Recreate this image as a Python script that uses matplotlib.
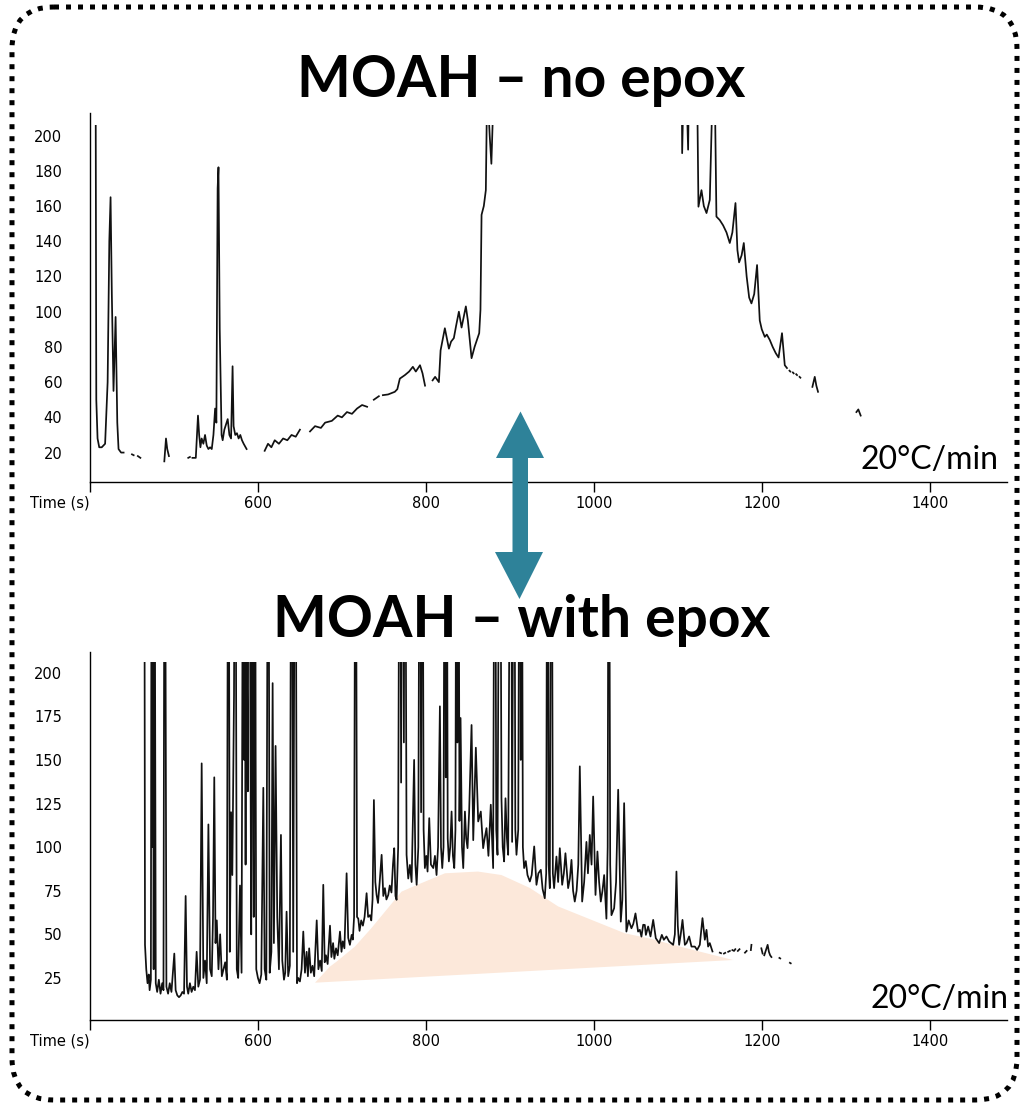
import numpy as np
import matplotlib
matplotlib.use("Agg")
import matplotlib.pyplot as plt
from matplotlib.patches import Rectangle, Polygon, FancyBboxPatch

nan = np.nan

# ---- data ----
xticks = [400, 600, 800, 1000, 1200, 1400]
xticklabels = ["Time (s)", "600", "800", "1000", "1200", "1400"]
top_yticks = [20, 40, 60, 80, 100, 120, 140, 160, 180, 200]
bot_yticks = [25, 50, 75, 100, 125, 150, 175, 200]
titles = ["MOAH \u2013 no epox", "MOAH \u2013 with epox"]
rate_label = "20\u00b0C/min"

# MOAH without epoxidation (gaps = nan)
top_t = [406, 407.5, 409, 411, 414, 418, 421, 423, 424.5, 426, 428, 430.5, 432.5, 434, 437, 440, nan,
         450, 452, nan, 457, 460, nan, 488.5, 490.5, 492, 494, nan, 517, 519, nan,
         522, 526, 528.6, 530, 531.5, 533, 535, 537, 539, 541, 543, 545, 547, 549, 550.5, 552, 553,
         554.5, 556.7, 558, 560, 562, 564, 566, 568, 569.8, 571, 573, 575, 577, 579, 581, 583, 586.5, nan,
         608, 612, 616, 620, 625, 630, 635, 640, 645, 650, nan, 662, 668, 675, 680, 688, 695, 700, 706,
         712, 718, 724, 730, nan, 738, 744, nan, 748.8, 755, 763, 766, 769, 775, 780, 784.5, 788, 793,
         796, 799, nan, 808, 811, 815.5, 817.5, 822.6, 827.4, 830, 833.3, 836, 839.3, 842.5, 845, 847.6,
         850, 854.4, 858, 863.5, 865, 866.3, 869, 871.4, 873, 876, 878, 881, 950, 1050,
         1104, 1105.2, 1108.3, 1112.3, 1115, 1122.3, 1124.6, 1128.2, 1131, 1134.2, 1138.1, 1143.2, 1146,
         1150, 1154, 1158, 1161.9, 1165, 1168.7, 1171, 1173, 1176, 1178.6, 1182, 1185, 1187.7, 1191,
         1194.4, 1197.6, 1200, 1203.6, 1206, 1209.5, 1213, 1216.7, 1220, 1224.1, 1227.4, 1230, nan,
         1233, 1234, nan, 1237, 1238, nan, 1241, 1242, nan, 1245, 1246, nan,
         1260.3, 1263.1, 1265, 1267, nan, 1312.7, 1315, 1317.8]
top_v = [400, 50, 28, 23, 23, 25, 60, 140, 165, 110, 55, 97, 37, 22, 20, 20, nan,
         19, 18.5, nan, 18, 17, nan, 15, 28, 22, 18, nan, 17, 17.5, nan,
         17, 17, 41, 30, 23, 28, 25, 30, 24, 22, 23, 22, 30, 45, 37, 170, 182,
         90, 30, 27, 33, 36, 39, 30, 28, 69, 35, 30, 31, 28, 30, 27, 25, 22, nan,
         21, 25, 23, 27, 25, 28, 27, 30, 29, 33, nan, 32, 35, 34, 37, 38, 41, 40, 43,
         42, 45, 47, 46, nan, 50, 52, nan, 52.6, 53, 54.5, 56, 62, 64, 66, 68.7, 66, 69.6,
         65, 58, nan, 61, 63, 60, 78, 90.6, 79, 83, 85, 92, 100, 91, 97, 103,
         95, 73.6, 80, 87.8, 101, 155, 160, 169, 230, 200, 184, 230, 400, 400,
         300, 190, 260, 192, 300, 260, 159.6, 169, 160, 156, 163.5, 260, 154,
         152, 149, 145, 139, 145, 161.7, 135, 128, 132, 139, 120, 108, 104.7, 110,
         126.5, 95, 90, 85.7, 87, 84, 80, 76.4, 74, 87.8, 69.6, 68, nan,
         66.5, 66, nan, 65.5, 65, nan, 64.5, 64, nan, 63, 62.5, nan,
         57.3, 63, 58, 54.5, nan, 43, 44.5, 41]

# MOAH with epoxidation
bot_t = [464.5, 465.5, 467, 468.5, 470, 471, 472.5, 473.6, 474.4, 475.2, 475.8, 476.8, 477.5, 478.3, 480,
         482, 484, 486, 487.5,
         489, 491, 493, 495, 497, 500.4, 502, 504, 506, 508, 510, 512, 513.9, 515.5, 517, 519, 521, 523,
         525, 527, 529, 531, 533, 535, 537, 539, 541, 543, 545, 546.5, 548, 549.5, 551, 553, 555, 557,
         559, 561, 563, 564.8, 566.5, 568, 569.5, 571.5, 573, 574.8, 576.5, 578.6, 580.5, 582.6, 583.5,
         584.5, 585.3, 586, 587, 588, 589, 590, 591, 592, 593.5, 594.5, 595, 596.5, 597.3,
         598, 600, 602, 604, 606.4, 608, 610, 612.3, 614, 616,
         617.5, 619, 621, 623, 625, 627.4, 629, 631, 632.5, 634.1, 636, 638, 640, 642, 644.5, 646.5,
         648, 650, 652, 654, 656, 658, 659.5, 661, 663, 665, 667, 670, 672, 674, 676, 677.8, 679.5, 681,
         683, 685.8, 687.5, 689.5, 691, 693, 695, 697.7, 699.5, 701, 703, 705.6, 707.5, 709.5, 711.6,
         713, 714.5, 716.3, 718, 719.5, 721, 723, 725, 727, 729.4, 731.2, 733.4, 735, 736.5, 738.1,
         739.8, 741.3, 743, 745, 747.3, 749.3, 751.2, 753, 755.2, 757, 759, 760.8, 762.3, 763.8, 765.1,
         767, 769, 770.5, 772, 773.8, 775, 777, 779, 781, 783, 786, 787.5, 789, 791, 792.9, 794.3,
         795.7, 797.3, 798.8, 800.5, 802, 804, 806, 808.8, 810.8, 812.7, 814.5, 816.7, 818, 819.5, 821,
         822.7, 823.7, 824.6, 826, 827.4, 829, 830.6, 832.2, 833.8, 835.2, 836.5, 837.5, 838.5, 840,
         841.3, 843, 844.5, 846.5, 848, 849.6, 851.5, 854.4, 856.4, 859.5, 862.3, 865.4, 868.2, 870,
         872.2, 874.5, 877.3, 880.1, 882.1, 883.8, 885.3, 888.1, 890, 891.5, 893.2, 894.8, 896.5, 898,
         901.2, 902.7, 905.1, 906.5, 907.9, 910, 911.9, 913, 913.9, 915.5, 917, 919, 921, 923.8, 926,
         929, 931.7, 934, 936.9, 939, 941.6, 943.3, 944.8, 946.2, 947.6, 949.6, 951.2, 952.7, 955.5,
         957.5, 959.5, 962.3, 964.3, 966.2, 969.4, 971.5, 973.4, 975.3, 977.3, 979.5, 981.5, 983.3,
         986.1, 988.5, 991.2, 993, 995.2, 997.3, 999.2, 1002, 1004.3, 1006.3, 1008.3, 1010.3, 1012.3,
         1015, 1016.5, 1017.8, 1019.5, 1021, 1024.2, 1026.5, 1029, 1032.1, 1034, 1036.1, 1038.8, 1041.5,
         1044.8, 1047, 1049.6, 1052.7, 1054.8, 1056.7, 1058.8, 1060.7, 1062, 1064.7, 1067.5, 1070.7,
         1073.8, 1077.8, 1081, 1083.4, 1086.5, 1089.7, 1094.5, 1096.5, 1098.4, 1100, 1101.6, 1103.5,
         1105.6, 1108.4, 1110.4, 1113.5, 1116.3, 1120.3, 1123, 1126.2, 1129.4, 1132.2, 1134.2, 1136.1,
         1138.1, 1141.3, nan, 1150, 1151.5, nan, 1155, 1156.5, nan, 1160, 1162, nan, 1165, 1167, 1168.5,
         nan, 1171.5, 1173.5, nan, 1180, 1182, nan, 1187, 1187.7, nan, 1199.5, 1201, nan, 1203, 1205,
         1207, 1208.5, 1210, 1211.5, nan, 1221, 1222, nan, 1233.5, 1234.5]
bot_v = [400, 44, 30, 22, 27, 18, 24, 400, 100, 400, 30, 400, 200, 22, 17,
         24, 16, 22, 18,
         400, 20, 16, 22, 17, 39, 18, 15, 14, 15, 17, 16, 72, 20, 16, 22, 17, 20,
         18, 40, 20, 24, 148, 25, 35, 22, 113, 30, 26, 60, 140, 45, 58, 30, 50, 26,
         30, 34, 24, 400, 40, 120, 84, 187, 400, 30, 25, 78, 28, 400, 150,
         400, 90, 400, 200, 132, 400, 400, 170, 50, 400, 100, 60, 400, 150,
         30, 25, 22, 27, 134, 30, 24, 400, 28, 40,
         194, 45, 158, 60, 30, 107, 35, 24, 28, 63, 26, 32, 400, 40, 400, 22,
         25, 23, 30, 51.6, 28, 40, 26, 42, 28, 32, 26, 58, 30, 35, 29, 78.4, 34, 38,
         33, 55, 37, 45, 36, 42, 38, 51.6, 40, 46, 42, 85, 48, 44, 49.7,
         47, 60, 400, 60, 59, 52, 58, 55, 60, 73.6, 60, 61, 58, 70, 127,
         80, 72.6, 68, 80, 95.6, 72, 76.5, 70, 72.6, 78, 74, 90, 99.4, 72, 69.8,
         100, 400, 137, 400, 160, 400, 95.6, 82, 89.8, 80, 150, 90, 78.4, 100, 400, 120,
         400, 110, 88, 95, 86, 116.6, 90, 88, 95, 84, 100, 180.7, 100, 88, 100,
         400, 140, 400, 105, 91.8, 100, 120.4, 95, 88, 110, 400, 160, 400, 115,
         174, 100, 88, 120.4, 105, 99.4, 120, 170, 104, 157, 114.7, 120.4, 99.4, 105,
         110.9, 95, 124.3, 88, 400, 110, 95.6, 400, 128, 100, 91.8, 128, 105, 95.6,
         400, 103, 400, 110, 95.6, 110, 400, 150, 400, 100, 88, 92, 84, 80.3, 84,
         100.4, 78.4, 85, 87, 76, 70.7, 85, 400, 90, 76.5, 400, 85, 76.5, 94.6,
         80, 99.4, 78.4, 85, 96.5, 76.5, 82, 92.7, 75, 68.8, 75, 90, 146.3,
         68.8, 80, 103, 85, 107, 90, 129, 72.6, 97.5, 80, 68.8, 75, 84,
         59, 100, 400, 90, 61, 65, 80, 132.9, 57.3, 70, 125.2, 51.6, 58,
         53.5, 56, 62, 51.6, 52.6, 48.7, 55.5, 55.4, 49.7, 54.5, 48.8, 58.3,
         47.8, 45, 49.7, 46.9, 48.8, 45.9, 44, 50, 86, 55, 44, 50,
         58.3, 44, 45, 48.8, 43, 43, 41.1, 44, 59.3, 46.9, 52.6, 43,
         45, 40.2, nan, 39.5, 39.2, nan, 39, 39.4, nan, 40, 40.5, nan, 41, 40.5, 41.5,
         nan, 40.5, 41.5, nan, 39.5, 40.5, nan, 41, 44, nan, 42, 39, nan, 38, 41,
         44, 40, 38, 37, nan, 36.5, 36.2, nan, 33.7, 33.4]

# unresolved hump (outline: upper edge, then closed along the straight base)
hump_t = [668, 685.7, 693.7, 715.5, 735, 771, 784.9, 822.7, 862, 890, 923.8, 957.5, 1037, 1066.7, 1102.4, 1165.8]
hump_v = [22.3, 31.5, 34.4, 43, 53.5, 74.5, 77.4, 85, 86, 84, 76.6, 66, 50.6, 47.6, 43, 35.3]

plt.rcParams['font.family'] = ['DejaVu Sans']
fig = plt.figure(figsize=(10.25, 11.08), dpi=100)

ax1 = fig.add_axes([0.0878, 0.5650, 0.8946, 0.3333])
ax2 = fig.add_axes([0.0878, 0.0794, 0.8946, 0.3324])


def style(ax, yticks, ylim):
    ax.set_xlim(400, 1492)
    ax.set_ylim(*ylim)
    for s in ['top', 'right']:
        ax.spines[s].set_visible(False)
    for s in ['left', 'bottom']:
        ax.spines[s].set_linewidth(1.0)
    ax.set_xticks(xticks)
    ax.set_xticklabels(xticklabels)
    ax.get_xticklabels()[0].set_ha('right')
    ax.set_yticks(yticks)
    ax.tick_params(axis='y', length=0, pad=20, labelsize=10.5)
    ax.tick_params(axis='x', length=7, width=1.0, direction='out', labelsize=10.5, pad=3)


style(ax1, top_yticks, (3.3, 213))
style(ax2, bot_yticks, (0.9, 212))

ax2.fill(hump_t, hump_v, color='#fce8da', lw=0, zorder=1)

for ax, t, v in [(ax1, top_t, top_v), (ax2, bot_t, bot_v)]:
    line, = ax.plot(t, v, color='#111111', lw=1.25, zorder=2)
    clip = Rectangle((400, 0), 1100, 206, transform=ax.transData)
    line.set_clip_path(clip)

# overlay in pixel coordinates for titles, arrow and frame
ov = fig.add_axes([0, 0, 1, 1])
ov.set_xlim(0, 1025)
ov.set_ylim(1108, 0)
ov.axis('off')
ov.patch.set_alpha(0)

ov.text(521, 97, titles[0], ha='center', va='baseline', fontsize=41,
        fontweight='bold', family=['Lato', 'DejaVu Sans'])
ov.text(522, 637, titles[1], ha='center', va='baseline', fontsize=41,
        fontweight='bold', family=['Lato', 'DejaVu Sans'])
ov.text(998, 469, rate_label, ha='right', va='baseline', fontsize=23, family=['Lato', 'DejaVu Sans'])
ov.text(1008, 1008, rate_label, ha='right', va='baseline', fontsize=23, family=['Lato', 'DejaVu Sans'])

arrow = Polygon([(520.5, 411.5), (544, 458), (528, 458), (528, 552), (543, 552), (519.5, 599),
                 (495, 552), (512.5, 552), (512.5, 458), (496, 458)],
                closed=True, facecolor='#2e8299', edgecolor='none', zorder=5)
ov.add_patch(arrow)

frame = FancyBboxPatch((12, 7), 1005, 1093, boxstyle="round,pad=0,rounding_size=42",
                       facecolor='none', edgecolor='black', lw=3.6, linestyle=(0, (1, 1.4)))
ov.add_patch(frame)

fig.savefig('out.png', dpi=100)
